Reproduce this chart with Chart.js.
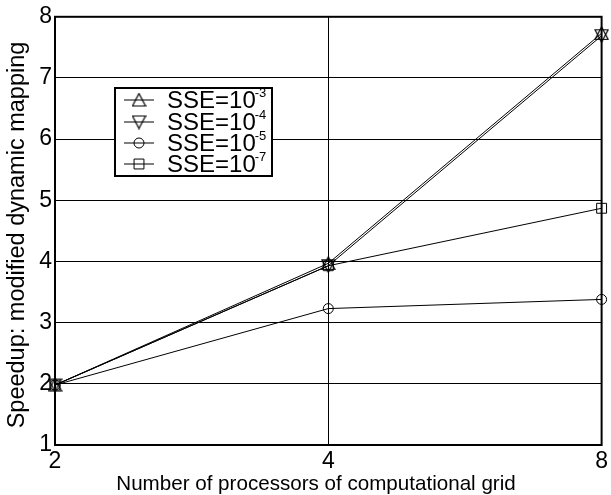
<!DOCTYPE html>
<html>
<head>
<meta charset="utf-8">
<script src="https://cdn.jsdelivr.net/npm/chart.js@4/dist/chart.umd.min.js"></script>
<style>
  html, body { margin: 0; padding: 0; background: #fff; }
  #wrap { width: 611px; height: 495px; }
</style>
</head>
<body>
<div id="wrap"><canvas id="chart" width="611" height="495"></canvas></div>
<script>
// values
const processors = ['2', '4', '8'];
const sse3 = [1.98, 3.97, 7.73];
const sse4 = [1.98, 3.93, 7.69];
const sse5 = [1.98, 3.23, 3.38];
const sse7 = [1.98, 3.93, 4.87];
const yTicks = [1, 2, 3, 4, 5, 6, 7, 8];
const legendExp = ['-3', '-4', '-5', '-7'];

const FONT = "Arial, 'Liberation Sans', sans-serif";

// matlab style triangle markers (as wide as tall)
function triangleMarker(up) {
    const c = document.createElement('canvas')
    c.width = 15
    c.height = 15
    const g = c.getContext('2d')
    g.strokeStyle = '#000'
    g.lineWidth = 1.2
    g.beginPath()
    if (up) {
        g.moveTo(7.5, 1); g.lineTo(14, 13.5); g.lineTo(1, 13.5)
    } else {
        g.moveTo(7.5, 14); g.lineTo(14, 1.5); g.lineTo(1, 1.5)
    }
    g.closePath()
    g.stroke()
    return c
}

function series(data, style, radius) {
    return {
        data: data,
        borderColor: '#000',
        borderWidth: 1,
        backgroundColor: '#fff',
        pointStyle: style,
        pointRadius: radius,
        pointBorderColor: '#000',
        pointBackgroundColor: 'rgba(255,255,255,0)',
        pointBorderWidth: 1,
        tension: 0,
        fill: false
    }
}

const datasets = [
    series(sse3, triangleMarker(true), 7),
    series(sse4, triangleMarker(false), 7),
    series(sse5, 'circle', 5),
    series(sse7, 'rect', 7)
];

// frame, axis titles and the legend box
const decor = {
    id: 'decor',
    afterDraw(chart) {
        const ctx = chart.ctx
        const a = chart.chartArea
        ctx.save()
        ctx.strokeStyle = '#000'
        ctx.lineWidth = 2
        ctx.strokeRect(a.left, a.top, a.right - a.left, a.bottom - a.top)

        ctx.fillStyle = '#000'
        ctx.font = '20.6px ' + FONT
        ctx.textAlign = 'center'
        ctx.textBaseline = 'middle'
        ctx.fillText('Number of processors of computational grid', 316, 484)

        ctx.save()
        ctx.translate(18, 235)
        ctx.rotate(-Math.PI / 2)
        ctx.font = '23.5px ' + FONT
        ctx.fillText('Speedup: modified dynamic mapping', 0, 0)
        ctx.restore()

        // legend
        const bx = 115, by = 88, bw = 157, bh = 88
        ctx.fillStyle = '#fff'
        ctx.fillRect(bx, by, bw, bh)
        ctx.strokeStyle = '#000'
        ctx.lineWidth = 2
        ctx.strokeRect(bx, by, bw, bh)

        const rows = [100, 122, 143, 164]
        datasets.forEach((ds, i) => {
            const y = rows[i]
            ctx.lineWidth = 1
            ctx.strokeStyle = '#000'
            ctx.beginPath()
            ctx.moveTo(124, y)
            ctx.lineTo(154, y)
            ctx.stroke()
            ctx.fillStyle = 'rgba(255,255,255,0)'
            Chart.helpers.drawPoint(ctx, {
                pointStyle: ds.pointStyle,
                radius: ds.pointRadius,
                rotation: 0,
                borderWidth: 1
            }, 139, y)
            ctx.fillStyle = '#000'
            ctx.textAlign = 'left'
            ctx.textBaseline = 'middle'
            ctx.font = '24px ' + FONT
            ctx.fillText('SSE=10', 167, y + 1)
            const w = ctx.measureText('SSE=10').width
            ctx.font = '13px ' + FONT
            ctx.fillText(legendExp[i], 166 + w, y - 7)
        })
        ctx.restore()
    }
}

new Chart(document.getElementById('chart'), {
    type: 'line',
    data: { labels: processors, datasets: datasets },
    plugins: [decor],
    options: {
        responsive: false,
        animation: false,
        layout: { padding: { top: 15, right: 8, left: 0, bottom: 0 } },
        plugins: { legend: { display: false }, tooltip: { enabled: false } },
        scales: {
            x: {
                type: 'category',
                offset: false,
                grid: { color: '#000', lineWidth: 1, drawTicks: false },
                border: { display: false },
                ticks: { color: '#000', font: { family: FONT, size: 23 }, padding: 3, maxRotation: 0 },
                afterFit(scale) { scale.height = 50 }
            },
            y: {
                min: 1,
                max: 8,
                afterBuildTicks(scale) { scale.ticks = yTicks.map(v => ({ value: v })) },
                grid: { color: '#000', lineWidth: 1, drawTicks: false },
                border: { display: false },
                ticks: { color: '#000', font: { family: FONT, size: 23 }, padding: 3 },
                afterFit(scale) { scale.width = 55 }
            }
        }
    }
});
</script>
</body>
</html>
